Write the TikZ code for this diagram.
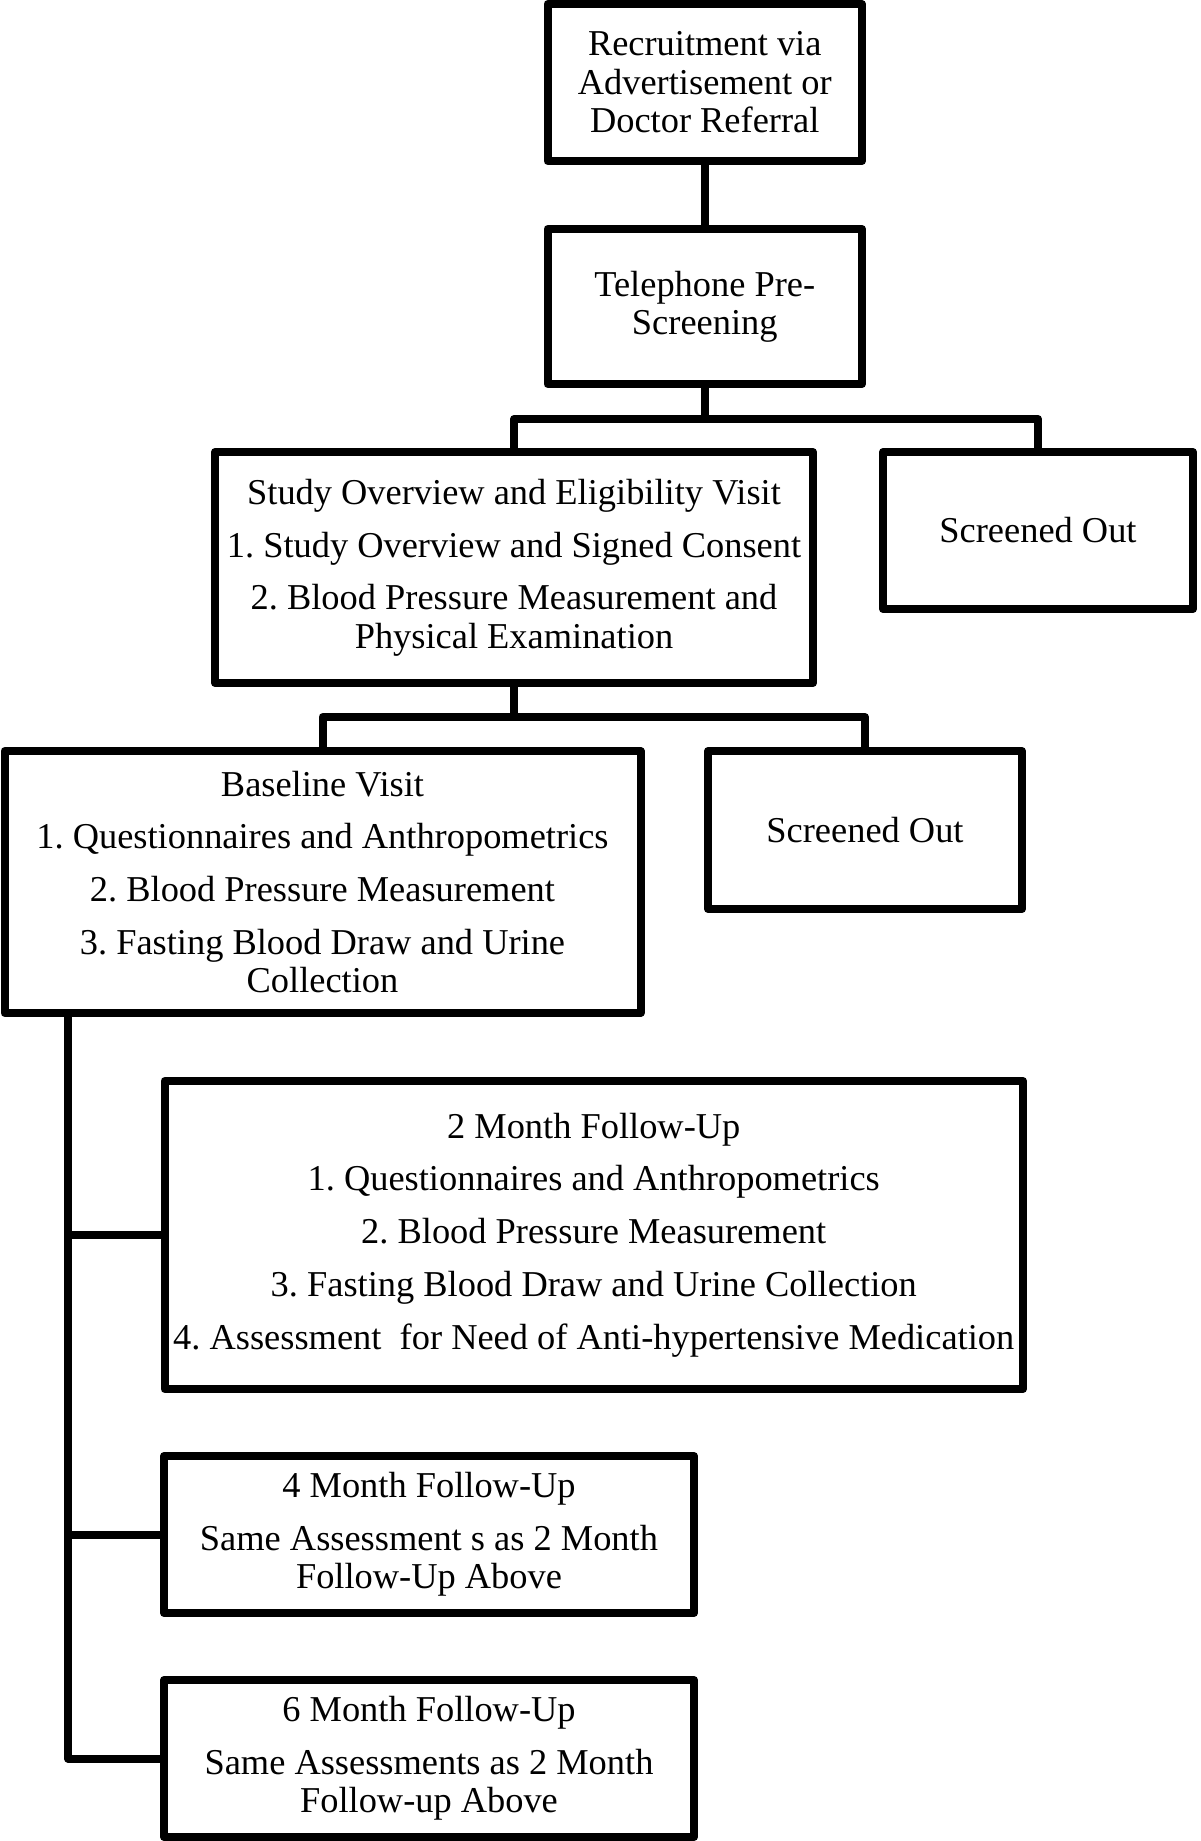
\documentclass[tikz,border=0pt]{standalone}
\usepackage{fontspec}
\setmainfont{Liberation Serif}
\frenchspacing
\tikzset{
  stage/.style={draw, line width=4pt, line join=round, align=center, inner sep=0pt,
    font=\fontsize{18.2}{19.2}\selectfont},
  link/.style={line width=4pt, line join=round},
}
\newcommand{\pargap}{\\[7.2pt]}

\begin{document}
\begin{tikzpicture}[x=0.5pt,y=-0.5pt]
    \useasboundingbox (0,0) rectangle (1200,1841);
    % screening
    \node[stage, minimum width=157.25pt, minimum height=78.5pt] (recruit) at (704.75,82.5)
        {Recruitment via\\Advertisement or\\Doctor Referral};
    \node[stage, minimum width=157.25pt, minimum height=77.5pt] (phone) at (704.75,306.5)
        {Telephone Pre-\\Screening};
    \node[stage, minimum width=299pt, minimum height=115.5pt] (elig) at (514,567.5)
        {Study Overview and Eligibility Visit\pargap 1. Study Overview and Signed Consent\pargap
         2. Blood Pressure Measurement and\\Physical Examination};
    \node[stage, minimum width=155pt, minimum height=78.5pt] (out1) at (1038,530.5) {Screened Out};
    % baseline
    \node[stage, minimum width=318pt, minimum height=131pt] (base) at (322.5,882)
        {Baseline Visit\pargap 1. Questionnaires and Anthropometrics\pargap
         2. Blood Pressure Measurement\pargap 3. Fasting Blood Draw and Urine\\Collection};
    \node[stage, minimum width=157pt, minimum height=79pt] (out2) at (865,830) {Screened Out};
    % follow-up
    \node[stage, minimum width=429.25pt, minimum height=154pt] (month2) at (593.75,1235)
        {2 Month Follow-Up\pargap 1. Questionnaires and Anthropometrics\pargap
         2. Blood Pressure Measurement\pargap 3. Fasting Blood Draw and Urine Collection\pargap
         4. Assessment~ for Need of Anti-hypertensive Medication};
    \node[stage, minimum width=265pt, minimum height=78.5pt] (month4) at (429,1534.5)
        {4 Month Follow-Up\pargap Same Assessment s as 2 Month\\Follow-Up Above};
    \node[stage, minimum width=265pt, minimum height=78.5pt] (month6) at (429,1758.5)
        {6 Month Follow-Up\pargap Same Assessments as 2 Month\\Follow-up Above};

    \coordinate (fork1) at (704.75,419);
    \coordinate (fork2) at (514,717);
    \coordinate (trunk) at (68,0);

    \draw[link] (recruit) -- (phone);
    \draw[link] (phone.south) -- (fork1);
    \draw[link] (elig.north) |- (fork1) -| (out1.north);
    \draw[link] (elig.south) -- (fork2);
    \draw[link] (base.north) |- (fork2) -| (out2.north);
    \draw[link] (base.south -| trunk) |- (month6.west);
    \draw[link] (month2.west -| trunk) -- (month2.west);
    \draw[link] (month4.west -| trunk) -- (month4.west);
\end{tikzpicture}
\end{document}
